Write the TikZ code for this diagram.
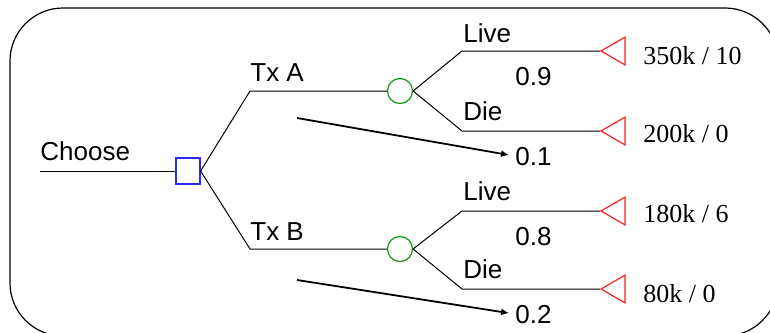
\documentclass[tikz,border=0pt]{standalone}
\usepackage{fontspec}
\setmainfont{Liberation Serif}
\setsansfont{Liberation Sans}
\usetikzlibrary{positioning, arrows.meta, shapes.geometric, calc}
\definecolor{decBlue}{RGB}{40,40,255}
\definecolor{chanceGreen}{RGB}{20,150,20}
\definecolor{payRed}{RGB}{255,30,30}

\begin{document}
\begin{tikzpicture}[x=0.5pt, y=-0.5pt,
  branch/.style={line width=0.5pt},
  lbl/.style={font=\sffamily\fontsize{13}{15}\selectfont, inner sep=0pt, anchor=base west},
  val/.style={font=\rmfamily\fontsize{13}{15}\selectfont, inner sep=0pt, anchor=base west},
  choice/.style={draw=decBlue, rectangle, minimum width=12pt, minimum height=13pt, inner sep=0pt, line width=0.6pt},
  chance/.style={draw=chanceGreen, circle, minimum size=12.5pt, inner sep=0pt, line width=0.6pt},
  payoff/.style={draw=payRed, regular polygon, regular polygon sides=3, shape border rotate=90, minimum size=16pt, inner sep=0pt, line width=0.6pt},
  probarrow/.style={line width=0.9pt, shorten >=3pt, -{Latex[length=4pt, width=3.5pt]}},
]
  \clip (0,0) rectangle (770,332);
  % outer frame
  \draw[rounded corners=26.5pt, line width=0.6pt] (10,8) rectangle (778,336);

  % decision and chance nodes
  \coordinate (start) at (40,171);
  \node[choice] (dec) at (188,171) {};
  \node[chance] (chA) at (400,91) {};
  \node[chance] (chB) at (400,249) {};
  \coordinate (kA) at (250,91);
  \coordinate (kB) at (250,249);

  % end points
  \coordinate (kA1) at (462,51);
  \coordinate (kA2) at (462,131);
  \coordinate (kB1) at (462,211);
  \coordinate (kB2) at (462,289);
  \node[payoff] (tA1) at (617,51) {};
  \node[payoff] (tA2) at (617,131) {};
  \node[payoff] (tB1) at (617,211) {};
  \node[payoff] (tB2) at (617,289) {};

  % branches
  \draw[branch] (start) -- (dec);
  \draw[branch] (dec.east) -- (kA) -- (chA);
  \draw[branch] (dec.east) -- (kB) -- (chB);
  \draw[branch] (chA.east) -- (kA1) -- (tA1);
  \draw[branch] (chA.east) -- (kA2) -- (tA2);
  \draw[branch] (chB.east) -- (kB1) -- (tB1);
  \draw[branch] (chB.east) -- (kB2) -- (tB2);

  % branch labels
  \node[lbl] (lChoose) at (40,160) {Choose};
  \node[lbl] (lTxA) at (250,81) {Tx A};
  \node[lbl] (lTxB) at (250,240) {Tx B};
  \node[lbl] (lLiveA) at (463,42) {Live};
  \node[lbl] (lDieA) at (463,120) {Die};
  \node[lbl] (lLiveB) at (463,200) {Live};
  \node[lbl] (lDieB) at (463,278) {Die};

  % probabilities
  \node[lbl] (pA1) at (515,85) {0.9};
  \node[lbl] (pA2) at (515,165) {0.1};
  \node[lbl] (pB1) at (515,245) {0.8};
  \node[lbl] (pB2) at (515,323) {0.2};
  \coordinate (sA) at (297,118);
  \coordinate (sB) at (297,280);
  \draw[probarrow] (sA) -- (pA2.west);
  \draw[probarrow] (sB) -- (pB2.west);

  % payoffs
  \node[val] (vA1) at (643,64) {350k / 10};
  \node[val] (vA2) at (643,142) {200k / 0};
  \node[val] (vB1) at (643,222) {180k / 6};
  \node[val] (vB2) at (643,302) {80k / 0};
\end{tikzpicture}
\end{document}
